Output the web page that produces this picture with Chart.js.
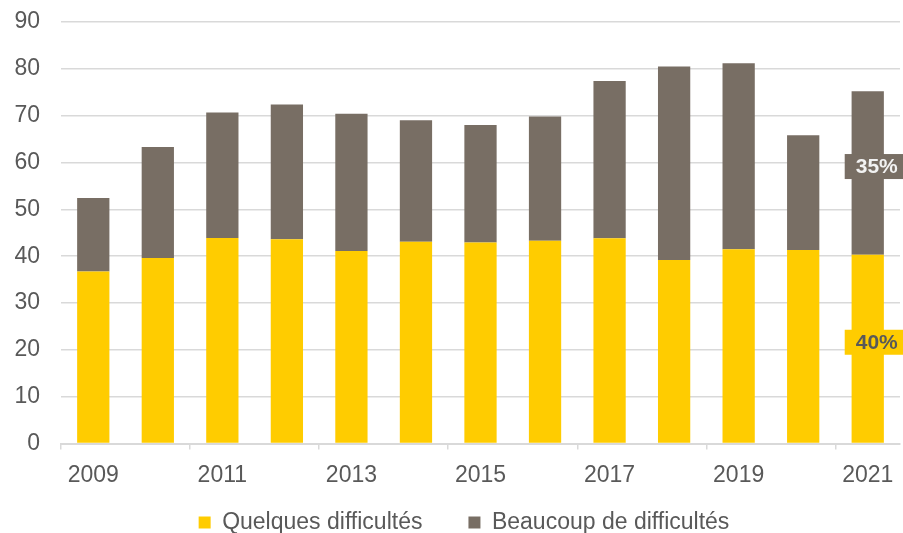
<!DOCTYPE html>
<html>
<head>
<meta charset="utf-8">
<script src="https://cdn.jsdelivr.net/npm/chart.js@4"></script>
<style>
  html, body { margin: 0; padding: 0; background: #fff; }
  #clip { width: 903px; height: 533px; overflow: hidden; }
  #wrap { width: 903px; height: 544px; position: relative; }
</style>
</head>
<body>
<div id="clip"><div id="wrap"><canvas id="difficultesChart"></canvas></div></div>
<script>
const years = ["2009", "2010", "2011", "2012", "2013", "2014", "2015", "2016", "2017", "2018", "2019", "2020", "2021"];
// share of respondents
const quelques = [36.7, 39.6, 43.9, 43.6, 41.1, 43.1, 42.9, 43.3, 43.8, 39.2, 41.5, 41.3, 40.3];
const beaucoup = [15.7, 23.7, 26.8, 28.8, 29.3, 25.9, 25.1, 26.5, 33.6, 41.3, 39.7, 24.5, 34.9];
const yTicks = [0, 10, 20, 30, 40, 50, 60, 70, 80, 90];
// labels shown on the last bar, one per series
const lastLabels = ["40%", "35%"];

const YELLOW = "#FFCC00";
const BROWN = "#786E64";
const TEXT = "#595959";
const GRID = "#D9D9D9";
const FONT = "'Liberation Sans', Arial, sans-serif";

// boxed labels on the 2021 bar
const lastBarLabels = {
  id: "lastBarLabels",
  afterDatasetsDraw(chart) {
    const ctx = chart.ctx;
    const styles = [
      { bg: YELLOW, fg: TEXT },
      { bg: BROWN, fg: "#F2F2F2" },
    ];
    chart.data.datasets.forEach((ds, i) => {
      const meta = chart.getDatasetMeta(i);
      const bar = meta.data[meta.data.length - 1];
      if (!bar) return;
      const cx = bar.x + 9;
      const cy = (bar.y + bar.base) / 2 - 6.5;
      ctx.save();
      ctx.font = "bold 21px " + FONT;
      const w = ctx.measureText(lastLabels[i]).width + 22;
      const h = 25;
      ctx.fillStyle = styles[i].bg;
      ctx.fillRect(cx - w / 2, cy - h / 2, w, h);
      ctx.fillStyle = styles[i].fg;
      ctx.textAlign = "center";
      ctx.textBaseline = "middle";
      ctx.fillText(lastLabels[i], cx, cy + 1);
      ctx.restore();
    });
  },
};

// legend in the original sits a bit right of centre
const shiftLegend = {
  id: "shiftLegend",
  afterLayout(chart) {
    if (!chart.legend) return;
    chart.legend.left += 14;
    chart.legend.right += 14;
  },
};

const ctx = document.getElementById("difficultesChart").getContext("2d");

new Chart(ctx, {
  type: "bar",
  data: {
    labels: years,
    datasets: [
      {
        label: "Quelques difficultés",
        data: quelques,
        backgroundColor: YELLOW,
        barPercentage: 0.5,
        categoryPercentage: 1,
      },
      {
        label: "Beaucoup de difficultés",
        data: beaucoup,
        backgroundColor: BROWN,
        barPercentage: 0.5,
        categoryPercentage: 1,
      },
    ],
  },
  plugins: [lastBarLabels, shiftLegend],
  options: {
    responsive: true,
    maintainAspectRatio: false,
    animation: false,
    layout: {
      padding: { top: 22, right: 3, left: 0, bottom: 0 },
    },
    plugins: {
      tooltip: { enabled: false },
      legend: {
        display: true,
        position: "bottom",
        labels: {
          boxWidth: 12,
          boxHeight: 12,
          padding: 46,
          color: TEXT,
          font: { family: FONT, size: 23 },
        },
      },
    },
    scales: {
      x: {
        stacked: true,
        afterFit(scale) {
          scale.height = 21.5;
        },
        border: { display: true, color: GRID, width: 2 },
        grid: {
          drawOnChartArea: false,
          drawTicks: true,
          tickLength: 6,
          lineWidth: 1.5,
          color: (c) => (c.index % 2 === 0 ? GRID : "rgba(0,0,0,0)"),
        },
        ticks: {
          autoSkip: false,
          maxRotation: 0,
          // mirror so the labels are not clipped to the short axis box
          mirror: true,
          padding: -46,
          color: TEXT,
          font: { family: FONT, size: 23 },
          callback: function (value, index) {
            return index % 2 === 0 ? this.getLabelForValue(value) : "";
          },
        },
      },
      y: {
        stacked: true,
        min: yTicks[0],
        max: yTicks[yTicks.length - 1],
        afterFit(scale) {
          scale.width = 61;
          // the tick padding would otherwise push the plot top down
          scale.paddingTop = 0;
          scale.paddingBottom = 0;
        },
        afterBuildTicks(scale) {
          scale.ticks = yTicks.map((v) => ({ value: v }));
        },
        border: { display: false },
        grid: {
          color: GRID,
          lineWidth: 1.5,
          drawTicks: false,
        },
        ticks: {
          padding: 21,
          color: TEXT,
          font: { family: FONT, size: 23 },
        },
      },
    },
  },
});
</script>
</body>
</html>
